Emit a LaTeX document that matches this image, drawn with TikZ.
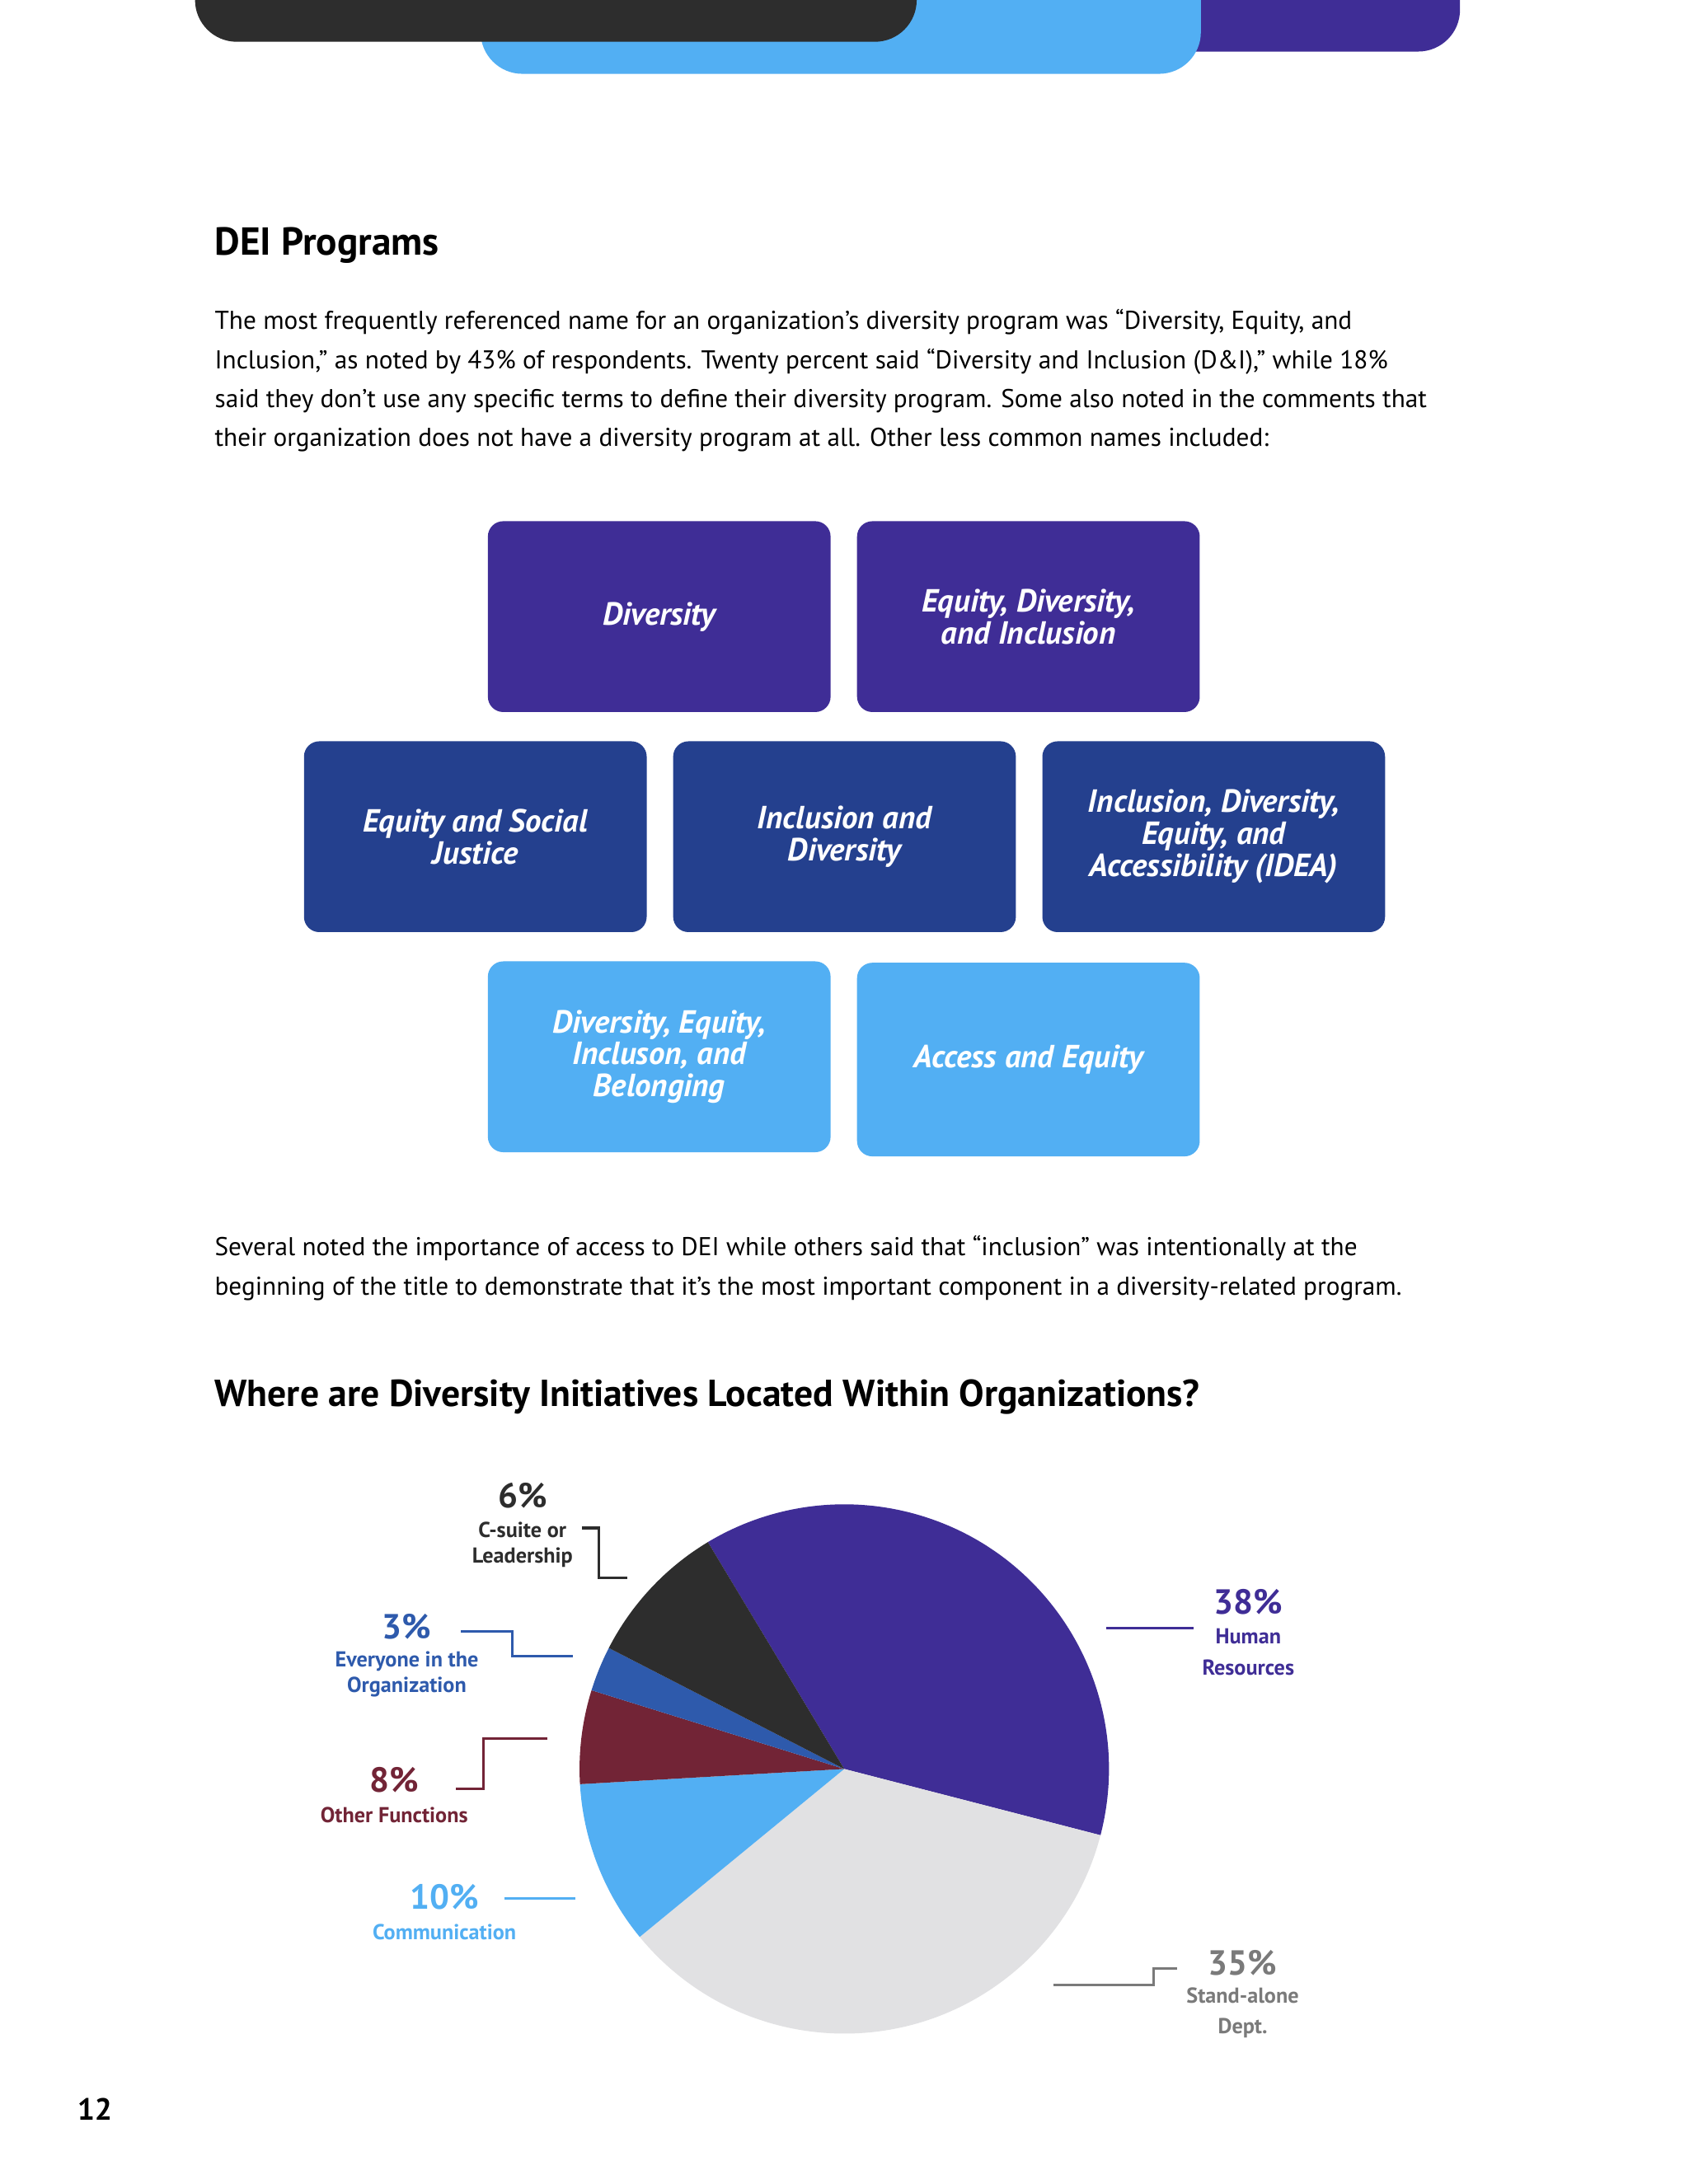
\documentclass[tikz,border=0pt]{standalone}
\usepackage{fontspec}
\setmainfont{PT Sans}
\definecolor{dk}{HTML}{2D2D2D}
\definecolor{lb}{HTML}{52AFF3}
\definecolor{pu}{HTML}{3F2D96}
\definecolor{nv}{HTML}{24408E}
\definecolor{mr}{HTML}{722436}
\definecolor{gy}{HTML}{E1E1E3}
\definecolor{bl}{HTML}{2E5AAC}
\definecolor{tg}{HTML}{7A7A7A}
\tikzset{
 card/.style={rounded corners=11pt,minimum width=246pt,minimum height=137pt,anchor=north west,text=white,align=center,font=\fontsize{23}{23}\selectfont\bfseries\itshape,inner sep=0pt},
 body/.style={anchor=north west,align=left,font=\fontsize{18.5}{28}\selectfont,inner sep=0pt,text=black},
 pct/.style={font=\fontsize{25}{25}\selectfont\bfseries,inner sep=0pt},
 lab/.style={font=\fontsize{15.5}{18.5}\selectfont\bfseries,inner sep=0pt,align=center},
 lead/.style={line width=1.8pt}
}
\begin{document}
\begin{tikzpicture}[x=1pt,y=-1pt]
\useasboundingbox[fill=white] (0,0) rectangle (1212,1568);
% top bars
\fill[pu,rounded corners=30pt] (640,-40) rectangle (1048,37);
\fill[lb,rounded corners=30pt] (345,-40) rectangle (862,53);
\fill[dk,rounded corners=30pt] (140,-40) rectangle (658,30);
% texts
\node[anchor=west,font=\fontsize{28}{28}\selectfont\bfseries,inner sep=0pt] (t1) at (154,176) {DEI Programs};
\node[body] (p1) at (154,222) {The most frequently referenced name for an organization’s diversity program was “Diversity, Equity, and\\Inclusion,” as noted by 43\% of respondents. Twenty percent said “Diversity and Inclusion (D\&I),” while 18\%\\said they don’t use any specific terms to define their diversity program. Some also noted in the comments that\\their organization does not have a diversity program at all. Other less common names included:};
% cards
\node[card,fill=pu] (c1) at (350,374) {Diversity};
\node[card,fill=pu] (c2) at (615,374) {Equity, Diversity,\\and Inclusion};
\node[card,fill=nv] (c3) at (218,532) {Equity and Social\\Justice};
\node[card,fill=nv] (c4) at (483,532) {Inclusion and\\Diversity};
\node[card,fill=nv] (c5) at (748,532) {Inclusion, Diversity,\\Equity, and\\Accessibility (IDEA)};
\node[card,fill=lb] (c6) at (350,690) {Diversity, Equity,\\Incluson, and\\Belonging};
\node[card,fill=lb,minimum height=139pt] (c7) at (615,691) {Access and Equity};
\node[body] (p2) at (154,887) {Several noted the importance of access to DEI while others said that “inclusion” was intentionally at the\\beginning of the title to demonstrate that it’s the most important component in a diversity-related program.};
\node[anchor=west,font=\fontsize{27}{27}\selectfont\bfseries,inner sep=0pt] (t2) at (154,1003) {Where are Diversity Initiatives Located Within Organizations?};
% pie
\begin{scope}[shift={(606,1270)},yscale=-1]
\def\R{190}
\fill[pu] (0,0) -- (-14.5:\R) arc[start angle=-14.5,end angle=121,radius=\R] -- cycle;
\fill[gy] (0,0) -- (-140.6:\R) arc[start angle=-140.6,end angle=-14.5,radius=\R] -- cycle;
\fill[lb] (0,0) -- (183.3:\R) arc[start angle=183.3,end angle=219.4,radius=\R] -- cycle;
\fill[mr] (0,0) -- (162.7:\R) arc[start angle=162.7,end angle=183.3,radius=\R] -- cycle;
\fill[bl] (0,0) -- (152.8:\R) arc[start angle=152.8,end angle=162.7,radius=\R] -- cycle;
\fill[dk] (0,0) -- (121:\R) arc[start angle=121,end angle=152.8,radius=\R] -- cycle;
\end{scope}
% labels
\node[pct,text=dk] (a1) at (375,1074) {6\%};
\node[lab,text=dk] (b1) at (375,1109) {C-suite or\\Leadership};
\draw[lead,dk] (418,1097) -- (430,1097) -- (430,1133) -- (450,1133);
\node[pct,text=bl] (a2) at (292,1168) {3\%};
\node[lab,text=bl] (b2) at (292,1202) {Everyone in the\\Organization};
\draw[lead,bl] (331,1171) -- (368,1171) -- (368,1189) -- (411,1189);
\node[pct,text=mr] (a3) at (283,1278) {8\%};
\node[lab,text=mr] (b3) at (283,1303) {Other Functions};
\draw[lead,mr] (393,1248) -- (347,1248) -- (347,1284) -- (327,1284);
\node[pct,text=lb] (a4) at (319,1362) {10\%};
\node[lab,text=lb] (b4) at (319,1387) {Communication};
\draw[lead,lb] (362,1363) -- (413,1363);
\node[pct,text=pu] (a5) at (896,1150) {38\%};
\node[lab,text=pu,font=\fontsize{15.5}{22}\selectfont\bfseries] (b5) at (896,1186) {Human\\Resources};
\draw[lead,pu] (794,1169) -- (857,1169);
\node[pct,text=tg] (a6) at (892,1409) {35\%};
\node[lab,text=tg,font=\fontsize{15.5}{22}\selectfont\bfseries] (b6) at (892,1445) {Stand-alone\\Dept.};
\draw[lead,tg] (756,1425) -- (828,1425) -- (828,1413) -- (845,1413);
\node[font=\fontsize{22}{22}\selectfont\bfseries,inner sep=0pt] (pg) at (68,1514) {12};
\end{tikzpicture}
\end{document}
